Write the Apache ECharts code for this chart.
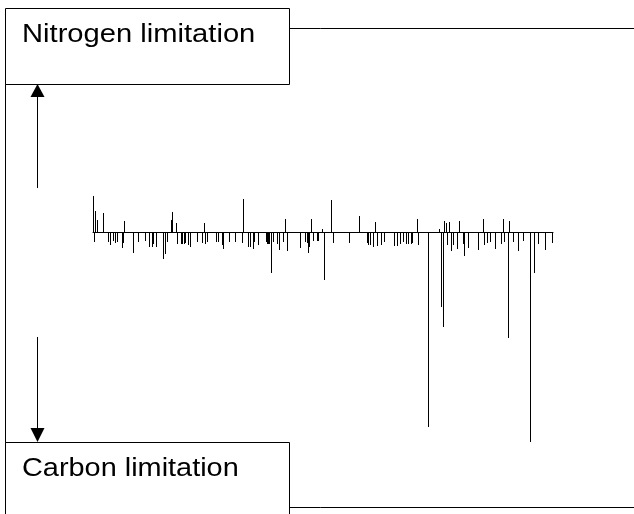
<!DOCTYPE html>
<html>
<head>
<meta charset="utf-8" />
<title>Nitrogen / Carbon limitation</title>
<script src="https://cdn.jsdelivr.net/npm/echarts@6/dist/echarts.min.js"></script>
<style>
  html, body { margin: 0; padding: 0; background: #fff; }
  #chart { width: 634px; height: 514px; }
</style>
</head>
<body>
<div id="chart"></div>
<script>
// sample positions along the axis and their signed response
var positions = [
  93, 94, 95, 97, 103, 108, 110, 113, 115, 117, 122, 123, 124, 133, 138, 145, 149, 152, 153, 156,
  163, 165, 167, 171, 172, 176, 177, 181, 182, 184, 185, 188, 190, 197, 202, 204, 205, 207, 216, 218,
  222, 223, 229, 235, 242, 243, 248, 250, 253, 254, 258, 266, 267, 268, 269, 271, 273, 277, 279, 283,
  285, 287, 300, 305, 307, 308, 309, 311, 313, 317, 318, 322, 324, 331, 333, 349, 359, 367, 368, 370,
  373, 375, 377, 381, 384, 394, 397, 400, 403, 406, 408, 411, 412, 417, 418, 428, 439, 441, 443, 444,
  446, 447, 449, 451, 453, 457, 459, 463, 464, 468, 478, 483, 484, 487, 490, 495, 501, 503, 504, 508,
  509, 513, 518, 523, 530, 534, 538, 545, 552
];
var values = [
  36, -10, 21, 12, 19, -10, -13, -9, -11, -10, -16, -11, 11, -21, -10, -9, -15, -15, -12, -15,
  -27, -22, -10, 12, 20, 9, -12, -12, -12, -12, -11, -13, -15, -10, -11, 9, -12, -10, -10, -10,
  -13, -17, -10, -10, -11, 33, -15, -15, -17, -10, -13, -10, -12, -12, -12, -41, -10, -12, -18, -10,
  13, -19, -16, -10, -11, -21, -15, 13, -9, -9, -9, 3, -48, 32, -11, -11, 16, -11, -13, -13,
  -15, 10, -14, -13, -10, -14, -14, -12, -10, -12, -12, -12, -11, 13, -13, -195, 3, -75, -95, 11,
  9, -13, 10, -19, -13, -17, 11, -12, -24, -16, -18, 13, -13, -11, -10, -17, -12, 13, -10, -106,
  11, -10, -19, -9, -210, -41, -12, -18, -11
];
var topLabel = 'Nitrogen limitation';
var bottomLabel = 'Carbon limitation';

var chart = echarts.init(document.getElementById('chart'));

var barData = positions.map(function (p, i) { return [p, values[i]]; });

var option = {
  animation: false,
  backgroundColor: '#fff',
  grid: { left: 93, right: 81, top: 132, bottom: 32 },
  xAxis: {
    type: 'value',
    min: 92.5,   // half step offset keeps the 1px bars on whole pixels
    max: 552.5,
    axisLine: { show: true, onZero: true, lineStyle: { color: '#000', width: 1 } },
    axisTick: { show: false },
    axisLabel: { show: false },
    splitLine: { show: false }
  },
  yAxis: {
    type: 'value',
    min: -250,
    max: 100,
    axisLine: { show: false },
    axisTick: { show: false },
    axisLabel: { show: false },
    splitLine: { show: false }
  },
  series: [{
    type: 'bar',
    barWidth: 1,
    itemStyle: { color: '#000' },
    data: barData
  }],
  graphic: [
    // outer frame
    { type: 'rect', shape: { x: 5.5, y: 28.5, width: 700, height: 479 },
      style: { fill: 'none', stroke: '#000', lineWidth: 1 }, z: 10 },
    // label boxes
    { type: 'rect', shape: { x: 5.5, y: 8.5, width: 284, height: 76 },
      style: { fill: '#fff', stroke: '#000', lineWidth: 1 }, z: 11 },
    { type: 'rect', shape: { x: 5.5, y: 442.5, width: 284, height: 90 },
      style: { fill: '#fff', stroke: '#000', lineWidth: 1 }, z: 11 },
    { type: 'text', x: 22, y: 35, scaleX: 1.1, z: 12,
      style: { text: topLabel, x: 0, y: 0, fill: '#000', verticalAlign: 'middle',
               font: '26.5px "Liberation Sans", Arial, sans-serif' } },
    { type: 'text', x: 22, y: 469, scaleX: 1.09, z: 12,
      style: { text: bottomLabel, x: 0, y: 0, fill: '#000', verticalAlign: 'middle',
               font: '26.5px "Liberation Sans", Arial, sans-serif' } },
    // arrows
    { type: 'line', shape: { x1: 37.5, y1: 188, x2: 37.5, y2: 96 },
      style: { stroke: '#000', lineWidth: 1 }, z: 12 },
    { type: 'polygon', shape: { points: [[37.5, 84], [30.5, 97], [44.5, 97]] },
      style: { fill: '#000' }, z: 12 },
    { type: 'line', shape: { x1: 37.5, y1: 337, x2: 37.5, y2: 430 },
      style: { stroke: '#000', lineWidth: 1 }, z: 12 },
    { type: 'polygon', shape: { points: [[37.5, 442], [30.5, 428], [44.5, 428]] },
      style: { fill: '#000' }, z: 12 }
  ]
};

chart.setOption(option);
</script>
</body>
</html>
